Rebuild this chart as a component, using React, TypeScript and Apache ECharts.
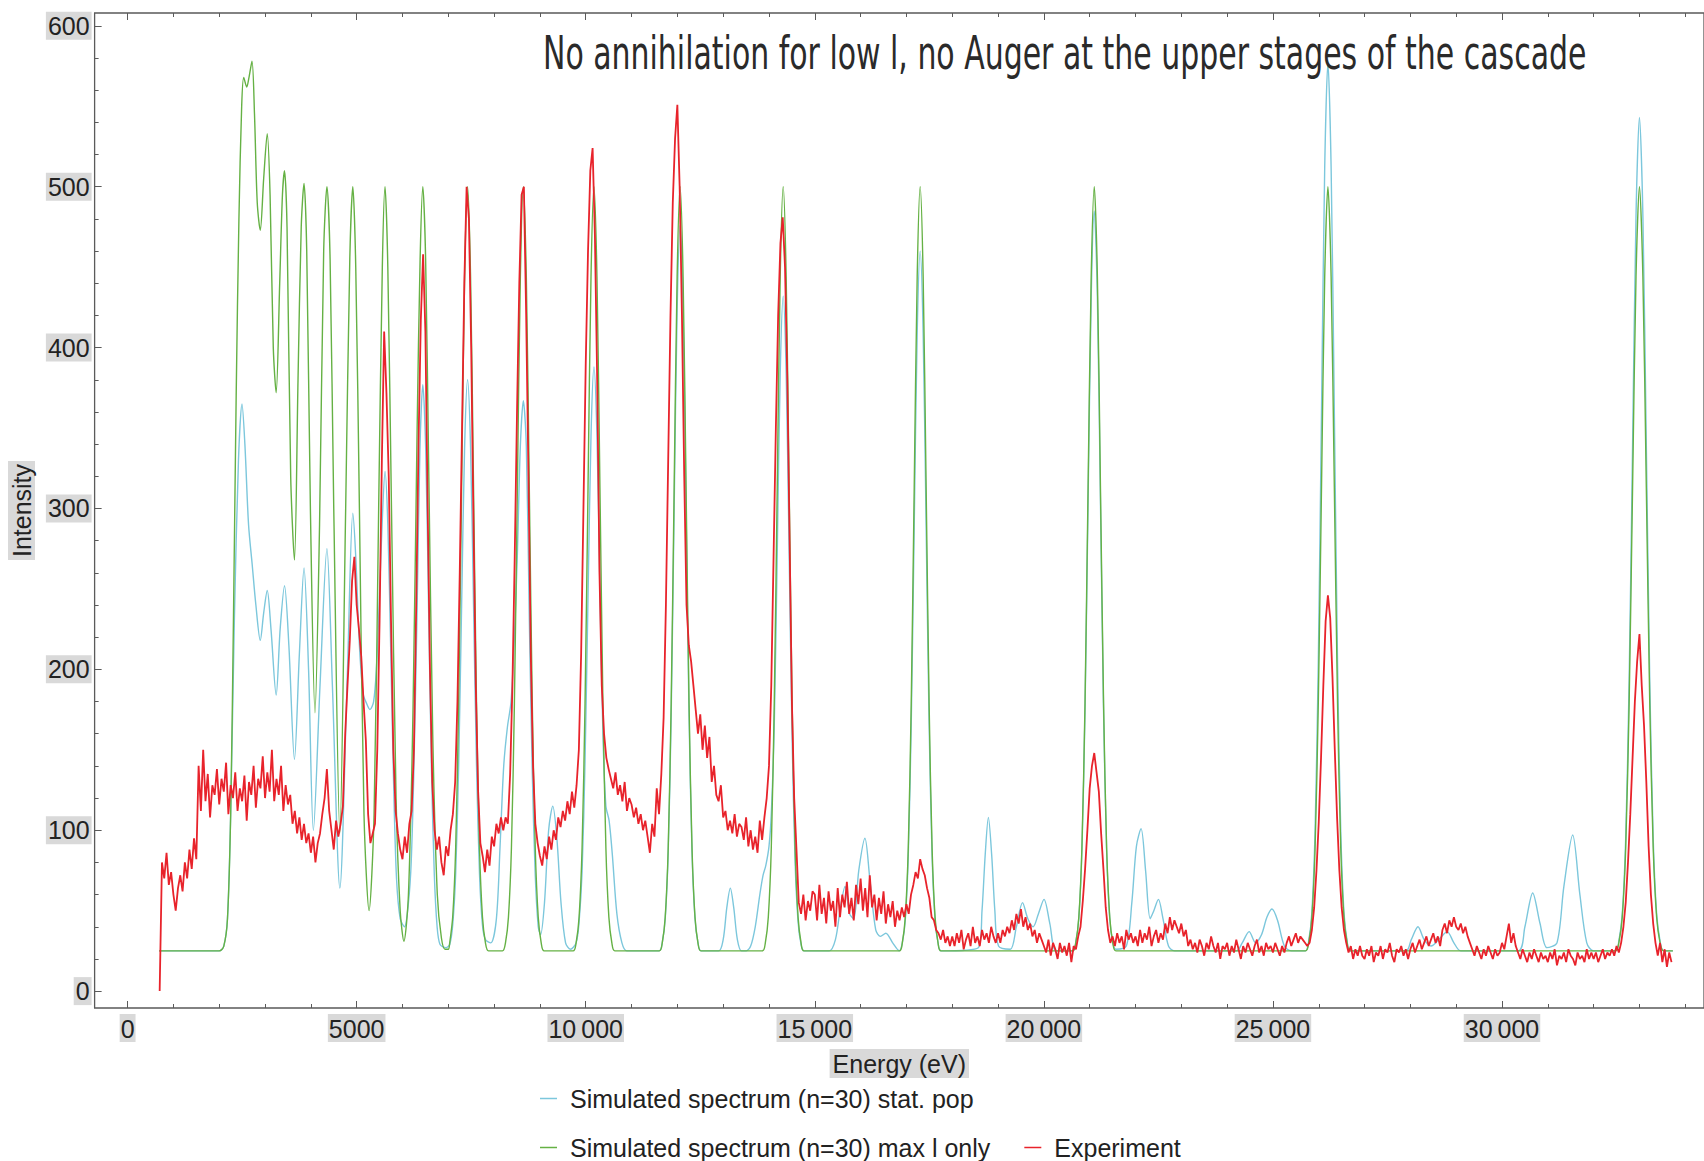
import React, { useEffect, useRef } from 'react';
import * as echarts from 'echarts';

const TITLE = 'No annihilation for low l, no Auger at the upper stages of the cascade';
const X_NAME = 'Energy (eV)';
const Y_NAME = 'Intensity';
const SERIES_NAMES = [
  'Simulated spectrum (n=30) stat. pop',
  'Simulated spectrum (n=30) max l only',
  'Experiment',
];

const xMajorTicks = [0, 5000, 10000, 15000, 20000, 25000, 30000];
const xMinorTicks = [1000, 2000, 3000, 4000, 6000, 7000, 8000, 9000, 11000, 12000, 13000, 14000, 16000, 17000, 18000, 19000, 21000, 22000, 23000, 24000, 26000, 27000, 28000, 29000, 31000, 32000, 33000, 34000];
const yMajorTicks = [0, 100, 200, 300, 400, 500, 600];
const yMinorTicks = [20, 40, 60, 80, 120, 140, 160, 180, 220, 240, 260, 280, 320, 340, 360, 380, 420, 440, 460, 480, 520, 540, 560, 580];

// Simulated spectrum, statistical population (cyan)
const statPop: number[][] = [
  [688, 25], [2000, 25], [2100, 28], [2180, 45], [2250, 110], [2330, 230], [2420, 330], [2497, 365], [2560, 340], [2640, 290], [2720, 265], [2800, 240], [2896, 218], [2970, 235], [3048, 249], [3130, 225], [3243, 184], [3330, 225], [3425, 252], [3520, 215], [3642, 144], [3750, 210], [3851, 263], [3950, 200], [4055, 100], [4200, 190], [4351, 275], [4470, 190], [4633, 64], [4800, 200], [4916, 297], [4980, 270], [5060, 215], [5140, 185], [5213, 179], [5290, 175], [5370, 180], [5430, 200], [5490, 240], [5555, 290], [5619, 323], [5680, 290], [5745, 210], [5810, 125], [5870, 70], [5950, 45], [6045, 40], [6130, 55], [6190, 80], [6250, 139], [6320, 238], [6380, 336], [6444, 377], [6508, 336], [6570, 238], [6632, 139], [6694, 73], [6756, 40], [6820, 29], [6950, 27],
  [7031, 29], [7096, 41], [7161, 73], [7226, 140], [7291, 240], [7356, 338], [7421, 380], [7486, 338], [7551, 240], [7616, 140], [7681, 73], [7746, 41], [7811, 32], [7928, 30],
  [8050, 45], [8130, 90], [8210, 140], [8290, 164], [8370, 180], [8443, 220], [8508, 272], [8573, 339], [8638, 367], [8703, 339], [8768, 232], [8833, 136], [8898, 72], [8963, 40], [9014, 35], [9100, 55], [9190, 100], [9281, 115], [9370, 95], [9460, 55], [9560, 30], [9665, 26],
  [9790, 30], [9855, 43], [9920, 74], [9985, 143], [10050, 245], [10115, 345], [10180, 388], [10245, 345], [10310, 250], [10375, 160], [10440, 115], [10510, 106], [10580, 85], [10680, 48], [10790, 30], [10897, 25],
  [11605, 25], [11670, 30], [11735, 45], [11800, 86], [11865, 171], [11930, 299], [11995, 423], [12060, 476], [12125, 423], [12190, 299], [12255, 171], [12320, 86], [12385, 45], [12450, 30], [12515, 25],
  [12900, 25], [13000, 32], [13080, 52], [13156, 64], [13230, 52], [13310, 32], [13400, 25], [13503, 25], [13600, 28], [13700, 40], [13800, 60], [13870, 72], [13930, 78], [14000, 90], [14050, 110], [14115, 165], [14180, 272], [14245, 384], [14310, 432], [14375, 384], [14440, 272], [14505, 157], [14570, 80], [14635, 43], [14700, 29], [14765, 25],
  [15313, 25], [15450, 32], [15560, 52], [15660, 65], [15760, 48], [15850, 45], [15960, 75], [16095, 95], [16200, 70], [16330, 38], [16435, 34], [16550, 36], [16700, 30],
  [16845, 25], [16910, 30], [16975, 44], [17040, 84], [17105, 166], [17170, 289], [17235, 409], [17300, 460], [17365, 409], [17430, 289], [17495, 166], [17560, 84], [17625, 44], [17690, 30], [17755, 25],
  [18570, 27], [18650, 50], [18720, 85], [18789, 108], [18860, 85], [18930, 50], [19010, 28], [19267, 26], [19400, 40], [19534, 55], [19650, 45], [19767, 40], [19880, 48], [20004, 57], [20130, 42], [20272, 25],
  [20630, 25], [20695, 30], [20763, 45], [20830, 87], [20898, 174], [20965, 304], [21033, 431], [21100, 485], [21168, 431], [21235, 304], [21303, 174], [21370, 87], [21438, 45], [21505, 30], [21573, 26],
  [21800, 28], [21920, 55], [22020, 90], [22122, 101], [22220, 75], [22320, 45], [22400, 50], [22500, 57], [22600, 45], [22720, 28], [22850, 25], [24200, 25], [24330, 30], [24480, 37], [24620, 30], [24750, 35], [24870, 46], [24980, 51], [25100, 44], [25250, 28], [25400, 25],
  [25710, 25], [25780, 31], [25850, 49], [25920, 100], [25990, 204], [26060, 360], [26130, 512], [26200, 577], [26270, 512], [26340, 360], [26410, 204], [26480, 100], [26550, 49], [26620, 31], [26690, 25],
  [27900, 25], [28020, 32], [28166, 40], [28300, 32], [28450, 28], [28650, 33], [28803, 37], [28950, 30], [29100, 25], [30350, 25], [30500, 40], [30670, 61], [30830, 42], [30980, 27], [31200, 30], [31350, 65], [31543, 97], [31700, 60], [31850, 30], [32000, 25],
  [32475, 25], [32550, 31], [32625, 48], [32700, 95], [32775, 193], [32850, 339], [32925, 482], [33000, 543], [33075, 482], [33150, 339], [33225, 193], [33300, 95], [33375, 48], [33450, 31], [33525, 25], [33730, 25],
];

// Simulated spectrum, maximal l only (green)
const maxLOnly: number[][] = [
  [688, 25], [2000, 25], [2100, 28], [2180, 45], [2250, 110], [2310, 230], [2370, 370], [2430, 480], [2490, 550], [2535, 568], [2600, 562], [2650, 568], [2715, 578], [2770, 545], [2830, 490], [2896, 473], [2970, 505], [3048, 533], [3110, 495], [3180, 400], [3243, 372], [3320, 440], [3380, 495], [3425, 510], [3480, 475], [3560, 320], [3642, 268], [3720, 380], [3790, 475], [3851, 502], [3910, 460], [3990, 300], [4090, 173], [4190, 290], [4280, 460], [4351, 500], [4420, 455], [4500, 300], [4633, 98], [4760, 300], [4850, 455], [4916, 500], [4980, 450], [5060, 300], [5160, 110], [5271, 50], [5380, 110], [5480, 300], [5560, 450], [5619, 500], [5680, 450], [5760, 300], [5860, 120], [5950, 50], [6031, 31], [6130, 60], [6230, 175], [6320, 350], [6385, 455], [6444, 500], [6505, 455], [6570, 330], [6660, 160], [6760, 60], [6850, 33], [6929, 26],
  [7000, 26], [7031, 30], [7096, 46], [7161, 89], [7226, 179], [7291, 313], [7356, 444], [7421, 500], [7486, 444], [7551, 313], [7616, 179], [7681, 89], [7746, 46], [7811, 30], [7876, 25],
  [8183, 25], [8248, 30], [8313, 46], [8378, 89], [8443, 179], [8508, 313], [8573, 444], [8638, 500], [8703, 444], [8768, 313], [8833, 179], [8898, 89], [8963, 46], [9028, 30], [9093, 25],
  [9725, 25], [9790, 30], [9855, 46], [9920, 89], [9985, 179], [10050, 313], [10115, 444], [10180, 500], [10245, 444], [10310, 313], [10375, 179], [10440, 89], [10505, 46], [10570, 30], [10635, 25],
  [11605, 25], [11670, 30], [11735, 46], [11800, 89], [11865, 179], [11930, 313], [11995, 444], [12060, 500], [12125, 444], [12190, 313], [12255, 179], [12320, 89], [12385, 46], [12450, 30], [12515, 25],
  [13855, 25], [13920, 30], [13985, 46], [14050, 89], [14115, 179], [14180, 313], [14245, 444], [14310, 500], [14375, 444], [14440, 313], [14505, 179], [14570, 89], [14635, 46], [14700, 30], [14765, 25],
  [16845, 25], [16910, 30], [16975, 46], [17040, 89], [17105, 179], [17170, 313], [17235, 444], [17300, 500], [17365, 444], [17430, 313], [17495, 179], [17560, 89], [17625, 46], [17690, 30], [17755, 25],
  [20630, 25], [20695, 30], [20763, 46], [20830, 89], [20898, 179], [20965, 313], [21033, 444], [21100, 500], [21168, 444], [21235, 313], [21303, 179], [21370, 89], [21438, 46], [21505, 30], [21573, 25],
  [25710, 25], [25780, 30], [25850, 46], [25920, 89], [25990, 179], [26060, 313], [26130, 444], [26200, 500], [26270, 444], [26340, 313], [26410, 179], [26480, 89], [26550, 46], [26620, 30], [26690, 25],
  [32475, 25], [32550, 30], [32625, 46], [32700, 89], [32775, 179], [32850, 313], [32925, 444], [33000, 500], [33075, 444], [33150, 313], [33225, 179], [33300, 89], [33375, 46], [33450, 30], [33525, 25], [33730, 25],
];

// Experiment (red): sampled every 50 eV from 700 eV
const expLowStart = 700;
const expLowStep = 50;
const expLow = [
  0, 80, 70, 86, 66, 74, 60, 50, 64, 72,
  62, 80, 70, 88, 76, 95, 82, 140, 112, 150,
  118, 135, 108, 128, 122, 138, 116, 132, 124, 142,
  110, 128, 120, 136, 112, 126, 118, 134, 106, 130,
  122, 140, 114, 132, 126, 146, 120, 136, 124, 150,
  118, 132, 122, 140, 112, 128, 116, 122, 104, 112,
  98, 108, 94, 104, 92, 98, 86, 96, 80, 92,
  98, 110, 120, 138, 112, 100, 88, 106, 96, 104,
  115, 160, 190, 218, 255, 270, 240, 225, 208, 180,
  156, 110, 92, 98, 104, 150, 230, 330, 410, 372,
  320, 230, 150, 112, 98, 88, 82, 96, 86, 104,
  112, 150, 240, 340, 417, 458, 410, 300, 200, 130,
  100, 88, 96, 80, 72, 90, 84, 100, 110, 130,
  180, 260, 350, 440, 500, 480, 400, 290, 190, 125,
  92, 84, 74, 88, 78, 96, 90, 104, 98, 108,
  100, 108, 104, 135, 190, 270, 360, 440, 495, 500,
  420, 320, 210, 140, 104, 92, 84, 78, 90, 82,
  96, 88, 100, 94, 108, 102, 112, 106, 118, 110,
  124, 114, 128, 150, 210, 300, 390, 460, 510, 524,
  470, 380, 260, 190, 160, 145, 138, 132, 126, 136,
  122, 128, 118, 130, 112, 120, 116, 108, 114, 104,
  110, 100, 106, 96, 86, 104, 96, 126, 110, 135,
  170, 240, 330, 420, 490, 530, 551, 500, 420, 320,
  240, 215, 205, 190, 175, 160, 172, 150, 165, 145,
  158, 130, 140, 122, 118, 128, 108, 112, 100, 106,
  98, 110, 96, 104, 102, 94, 108, 90, 100, 88,
  96, 86, 106, 94, 108, 120, 140, 190, 270, 350,
  420, 465, 481, 450, 380, 280, 180, 120, 88, 55,
  48, 60, 44, 56, 50, 62,
];
// Experiment (red): sampled every 50 eV from 15000 eV
const expHighStart = 15000;
const expHighStep = 50;
const expHigh = [
  60, 44, 66, 48, 58, 42, 62, 50, 56, 40, 64, 46, 60, 52, 68, 48, 58, 44, 66, 54,
  70, 50, 64, 46, 72, 52, 60, 44, 58, 48, 62, 42, 54, 46, 56, 40, 50, 44, 52, 46,
  54, 48, 60, 66, 74, 70, 82, 76, 72, 64, 58, 46, 44, 38, 36, 32, 38, 30, 34, 28,
  34, 28, 36, 30, 38, 26, 32, 36, 28, 40, 30, 34, 28, 38, 32, 36, 30, 40, 34, 30,
  36, 30, 38, 34, 40, 36, 44, 38, 48, 42, 51, 40, 46, 38, 42, 34, 38, 30, 36, 32,
  28, 24, 32, 22, 30, 26, 20, 30, 24, 28, 22, 30, 18, 28, 26, 34, 40, 56, 76, 100,
  126, 140, 148, 136, 124, 98, 76, 52, 38, 30, 34, 28, 36, 30, 34, 26, 38, 32, 36, 30,
  34, 28, 38, 30, 36, 32, 40, 28, 34, 38, 30, 36, 32, 42, 36, 46, 38, 44, 40, 36,
  42, 34, 38, 28, 32, 26, 30, 24, 32, 28, 22, 30, 26, 34, 28, 24, 30, 20, 28, 26,
  30, 22, 28, 24, 32, 26, 20, 28, 24, 30, 26, 22, 28, 32, 24, 28, 22, 30, 26, 28,
  24, 30, 26, 22, 28, 24, 30, 34, 28, 32, 36, 30, 34, 32, 30, 28, 30, 38, 52, 75,
  105, 145, 190, 230, 246, 232, 195, 150, 108, 75, 52, 38, 30, 24, 28, 20, 26, 22, 28, 22,
  20, 26, 22, 28, 18, 24, 22, 28, 20, 26, 24, 30, 22, 18, 26, 24, 28, 22, 26, 20,
  26, 30, 24, 28, 32, 26, 30, 34, 28, 32, 36, 30, 34, 28, 38, 42, 36, 44, 40, 46,
  40, 38, 42, 36, 40, 34, 30, 26, 22, 28, 24, 20, 26, 22, 28, 24, 20, 26, 22, 24,
  30, 26, 34, 42, 30, 36, 28, 24, 20, 26, 22, 18, 24, 20, 26, 22, 18, 24, 20, 22,
  18, 24, 20, 26, 16, 22, 20, 24, 18, 26, 22, 20, 16, 24, 20, 22, 18, 26, 20, 24,
  20, 24, 18, 22, 26, 20, 24, 22, 26, 22, 28, 24, 30, 40, 55, 80, 110, 145, 180, 205,
  222, 190, 165, 130, 90, 60, 42, 30, 22, 30, 18, 26, 15, 24, 18,
];

const X_MIN = -720;
const X_MAX = 34409;
const Y_MIN = -10.5;
const Y_MAX = 608;

const CYAN = '#7cc7dc';
const GREEN = '#65b144';
const RED = '#e8232b';
const FONT = '"Liberation Sans", Arial, sans-serif';
const TITLE_FONT = '"DejaVu Sans Condensed", "Liberation Sans Narrow", sans-serif';
const LABEL_BG = '#d9d9d9';
const AXIS_COLOR = '#5a5a5a';

function fmtX(v: number): string {
  if (v >= 10000) {
    const s = String(v);
    return s.slice(0, s.length - 3) + '\u2009' + s.slice(s.length - 3);
  }
  return String(v);
}

export default function App() {
  const ref = useRef<HTMLDivElement>(null);
  useEffect(() => {
    if (!ref.current) return;
    const chart = echarts.init(ref.current, null, { renderer: 'svg' });

    const experiment: number[][] = [];
    expLow.forEach((v, i) => experiment.push([expLowStart + i * expLowStep, v]));
    expHigh.forEach((v, i) => experiment.push([expHighStart + i * expHighStep, v]));

    const titleSize = 46;
    let titleScale = 0.6;
    try {
      const c = document.createElement('canvas').getContext('2d');
      if (c) {
        c.font = `${titleSize}px ${TITLE_FONT}`;
        const w = c.measureText(TITLE).width;
        if (w > 0) titleScale = 1044 / w;
      }
    } catch (e) {}

    const labelStyle = {
      fontSize: 25,
      color: '#222',
      fontFamily: FONT,
      backgroundColor: LABEL_BG,
    };

    const tick = (values: number[], len: number) => ({
      show: true,
      inside: true,
      length: len,
      customValues: values,
      lineStyle: { color: AXIS_COLOR, width: 1 },
    });

    const hiddenAxisBase = {
      type: 'value',
      axisLine: { show: false, onZero: false },
      splitLine: { show: false },
      axisLabel: { show: false },
    };

    chart.setOption({
      animation: false,
      backgroundColor: '#ffffff',
      grid: {
        left: 92,
        right: -5,
        top: 13,
        bottom: 153,
        show: true,
        borderColor: AXIS_COLOR,
        borderWidth: 1.3,
        backgroundColor: 'transparent',
      },
      xAxis: [
        {
          type: 'value',
          min: X_MIN,
          max: X_MAX,
          position: 'bottom',
          axisLine: { show: false, onZero: false },
          splitLine: { show: false },
          axisTick: tick(xMajorTicks, 7),
          axisLabel: { ...labelStyle, customValues: xMajorTicks, formatter: (v: number) => fmtX(v), margin: 6, padding: [2, 1, 1, 1] },
          name: X_NAME,
          nameLocation: 'middle',
          nameGap: 41,
          nameTextStyle: { ...labelStyle, padding: [2, 3, 2, 3], verticalAlign: 'top' },
        },
        { ...hiddenAxisBase, min: X_MIN, max: X_MAX, position: 'bottom', axisTick: tick(xMinorTicks, 4) },
        { ...hiddenAxisBase, min: X_MIN, max: X_MAX, position: 'top', axisTick: tick(xMajorTicks, 7) },
        { ...hiddenAxisBase, min: X_MIN, max: X_MAX, position: 'top', axisTick: tick(xMinorTicks, 4) },
      ],
      yAxis: [
        {
          type: 'value',
          min: Y_MIN,
          max: Y_MAX,
          position: 'left',
          axisLine: { show: false, onZero: false },
          splitLine: { show: false },
          axisTick: tick(yMajorTicks, 7),
          axisLabel: { ...labelStyle, customValues: yMajorTicks, margin: 3, padding: [2, 2, 1, 2] },
          name: Y_NAME,
          nameLocation: 'middle',
          nameGap: 48,
          nameRotate: 90,
          nameTextStyle: { ...labelStyle, padding: [1, 3, 1, 3] },
        },
        { ...hiddenAxisBase, min: Y_MIN, max: Y_MAX, position: 'left', axisTick: tick(yMinorTicks, 4) },
      ],
      legend: [
        {
          data: [SERIES_NAMES[0]],
          left: 540,
          top: 1086,
          padding: 0,
          icon: 'rect',
          itemWidth: 17,
          itemHeight: 1.5,
          textStyle: { fontSize: 25, color: '#222', fontFamily: FONT, padding: [0, 0, 0, 8] },
          selectedMode: false,
        },
        {
          data: [SERIES_NAMES[1], SERIES_NAMES[2]],
          left: 540,
          top: 1135,
          padding: 0,
          icon: 'rect',
          itemWidth: 17,
          itemHeight: 1.5,
          itemGap: 34,
          textStyle: { fontSize: 25, color: '#222', fontFamily: FONT, padding: [0, 0, 0, 8] },
          selectedMode: false,
        },
      ],
      graphic: [
        {
          type: 'text',
          x: 543,
          y: 30,
          scaleX: titleScale,
          z: 10,
          style: {
            text: TITLE,
            font: `${titleSize}px ${TITLE_FONT}`,
            fill: '#2a2a2a',
            textVerticalAlign: 'top',
          },
        },
      ],
      series: [
        {
          name: SERIES_NAMES[0],
          type: 'line',
          data: statPop,
          xAxisIndex: 0,
          yAxisIndex: 0,
          showSymbol: false,
          symbol: 'none',
          smooth: 0.3,
          color: CYAN,
          lineStyle: { color: CYAN, width: 1.4 },
          z: 2,
        },
        {
          name: SERIES_NAMES[1],
          type: 'line',
          data: maxLOnly,
          xAxisIndex: 0,
          yAxisIndex: 0,
          showSymbol: false,
          symbol: 'none',
          smooth: 0.3,
          color: GREEN,
          lineStyle: { color: GREEN, width: 1.4 },
          z: 3,
        },
        {
          name: SERIES_NAMES[2],
          type: 'line',
          data: experiment,
          xAxisIndex: 0,
          yAxisIndex: 0,
          showSymbol: false,
          symbol: 'none',
          color: RED,
          lineStyle: { color: RED, width: 1.8 },
          z: 4,
        },
      ],
    });
    return () => chart.dispose();
  }, []);

  return (
    <div
      ref={ref}
      style={{ position: 'fixed', left: 0, top: 0, width: 1704, height: 1161, background: '#fff' }}
    />
  );
}
